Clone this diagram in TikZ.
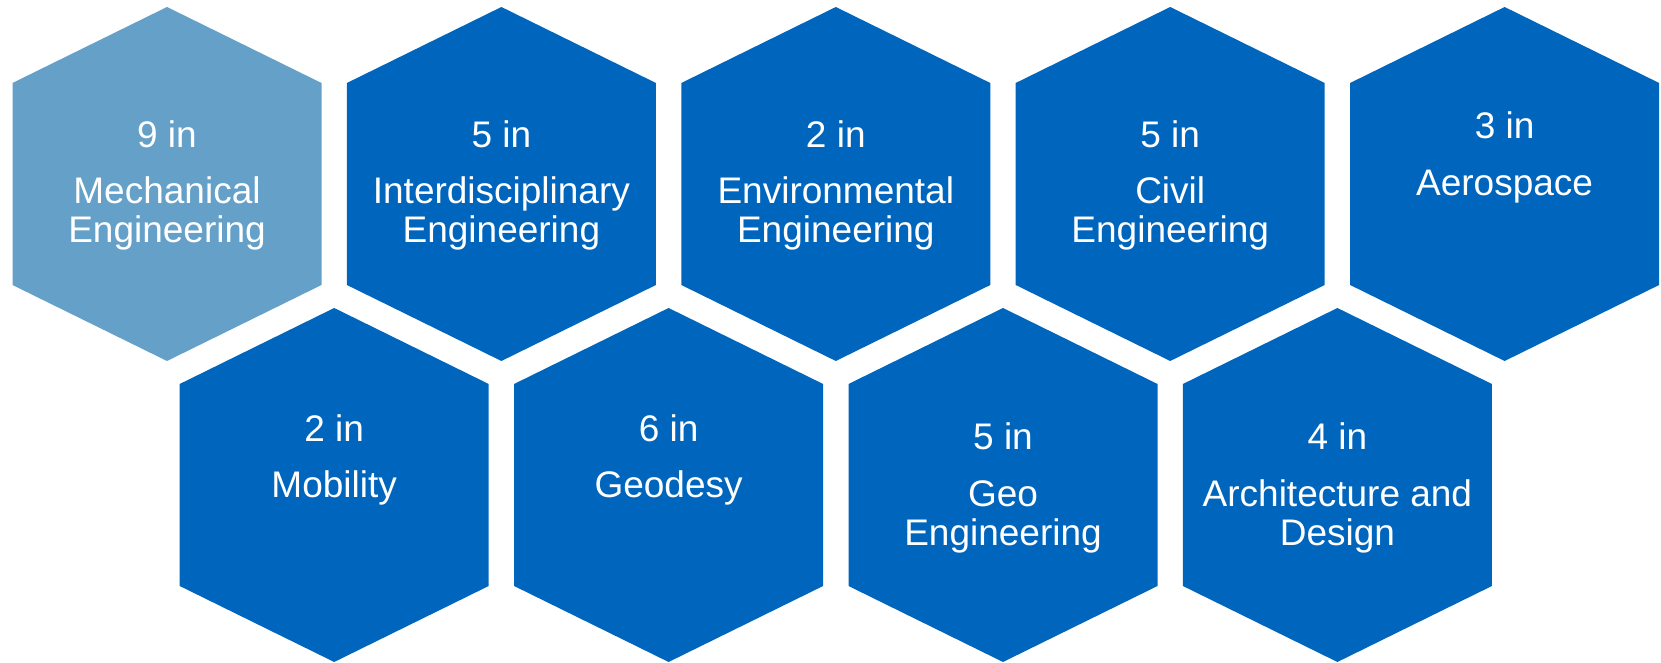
\documentclass[tikz,border=0pt]{standalone}
\usepackage{fontspec}
\setmainfont{Liberation Sans}
\usetikzlibrary{calc}
\definecolor{tumblue}{HTML}{0065BD}
\definecolor{tumlight}{HTML}{64A0C8}
\tikzset{
  count/.style={text=white, inner sep=0pt, anchor=base, font=\fontsize{37}{39.5}\selectfont},
  field/.style={count, align=center}
}
\newcommand{\hexa}[2]{%
  \fill[#1] ($(#2)+(0,177)$) -- ($(#2)+(154.5,101)$) -- ($(#2)+(154.5,-101)$)
    -- ($(#2)+(0,-177)$) -- ($(#2)+(-154.5,-101)$) -- ($(#2)+(-154.5,101)$) -- cycle;}

\begin{document}
\begin{tikzpicture}[x=1pt, y=1pt]
	\useasboundingbox (0,0) rectangle (1661,663);
	\def\dx{334.4}
	% upper row
	\coordinate (h1) at (167,479);
	\coordinate (h2) at ($(h1)+(\dx,0)$);
	\coordinate (h3) at ($(h2)+(\dx,0)$);
	\coordinate (h4) at ($(h3)+(\dx,0)$);
	\coordinate (h5) at ($(h4)+(\dx,0)$);
	% lower row
	\coordinate (h6) at (334.2,178);
	\coordinate (h7) at ($(h6)+(\dx,0)$);
	\coordinate (h8) at ($(h7)+(\dx,0)$);
	\coordinate (h9) at ($(h8)+(\dx,0)$);
%
	\hexa{tumlight}{h1}
	\hexa{tumblue}{h2}
	\hexa{tumblue}{h3}
	\hexa{tumblue}{h4}
	\hexa{tumblue}{h5}
	\hexa{tumblue}{h6}
	\hexa{tumblue}{h7}
	\hexa{tumblue}{h8}
	\hexa{tumblue}{h9}
%
	% base anchor of a two-line field is its last line
	\node[count] (n1) at ($(h1)+(0,36)$) {9 in};
	\node[field] (t1) at ($(h1)+(0,-59)$) {Mechanical\\Engineering};
	\node[count] (n2) at ($(h2)+(0,36)$) {5 in};
	\node[field] (t2) at ($(h2)+(0,-59)$) {Interdisciplinary\\Engineering};
	\node[count] (n3) at ($(h3)+(0,36)$) {2 in};
	\node[field] (t3) at ($(h3)+(0,-59)$) {Environmental\\Engineering};
	\node[count] (n4) at ($(h4)+(0,36)$) {5 in};
	\node[field] (t4) at ($(h4)+(0,-59)$) {Civil\\Engineering};
	\node[count] (n5) at ($(h5)+(0,45)$) {3 in};
	\node[field] (t5) at ($(h5)+(0,-12)$) {Aerospace};
	\node[count] (n6) at ($(h6)+(0,43)$) {2 in};
	\node[field] (t6) at ($(h6)+(0,-13)$) {Mobility};
	\node[count] (n7) at ($(h7)+(0,43)$) {6 in};
	\node[field] (t7) at ($(h7)+(0,-13)$) {Geodesy};
	\node[count] (n8) at ($(h8)+(0,35)$) {5 in};
	\node[field] (t8) at ($(h8)+(0,-61)$) {Geo\\Engineering};
	\node[count] (n9) at ($(h9)+(0,35)$) {4 in};
	\node[field] (t9) at ($(h9)+(0,-61)$) {Architecture and\\Design};
\end{tikzpicture}
\end{document}
